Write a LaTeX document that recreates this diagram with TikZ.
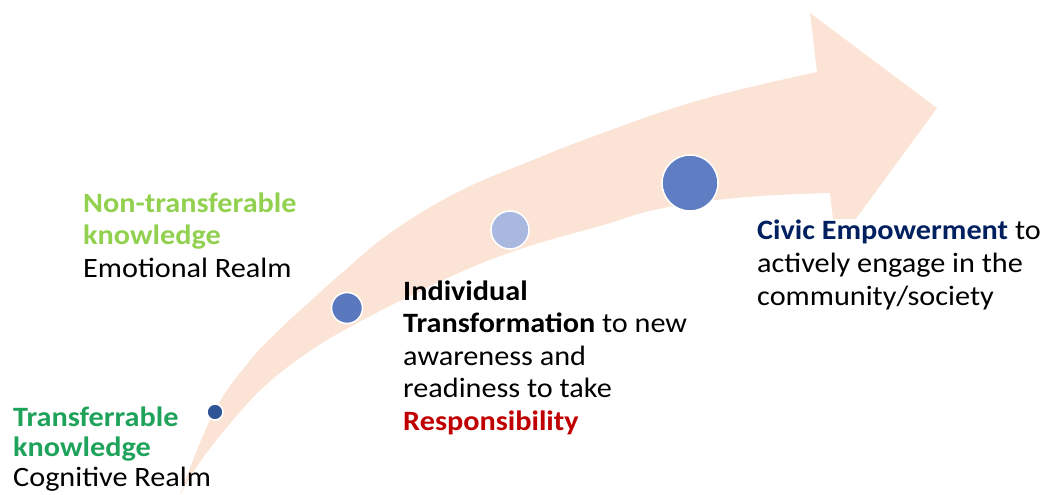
\documentclass[tikz,border=0pt]{standalone}
\usepackage{fontspec}
\setmainfont{Carlito}[FakeStretch=1.08]
\usepackage{xcolor}
\definecolor{Peach}{HTML}{FBE4D5}
\definecolor{DarkDot}{HTML}{2F5597}
\definecolor{MidDot}{HTML}{5A78BE}
\definecolor{LightDot}{HTML}{A9B8DE}
\definecolor{BigDot}{HTML}{5E7DC2}
\definecolor{KnowGreen}{HTML}{1FA35B}
\definecolor{SoftGreen}{HTML}{92D050}
\definecolor{RespRed}{HTML}{C00000}
\definecolor{CivicBlue}{HTML}{002060}

\begin{document}
\begin{tikzpicture}[x=1pt, y=-1pt,
      every node/.append style={inner sep=0pt},
      stage/.style={circle, draw=white, line width=1.5pt, inner sep=0pt, minimum size=#1}]
      \tikzstyle{realm} = [anchor=base west, align=left, color=black, font=\fontsize{28}{32.5}\selectfont]
      \useasboundingbox (0,0) rectangle (1044,495);
      % the curved arrow
      \fill[Peach] plot[smooth, tension=0.7] coordinates {(180,495) (213,414) (248,363) (277,332) (305,306) (343,272) (393,231) (460,191) (533,160) (600,134) (700,100) (817,72)}
        -- (810,13) -- (937,108) -- (836,246) -- (830,193)
        -- plot[smooth, tension=0.7] coordinates {(830,193) (747,197) (663,208) (600,226) (533,245) (470,268) (400,301) (350,327) (310,351) (267,384) (233,420) (200,462) (180,495)} -- cycle;
      % stages along the arrow
      \node (first) [stage=16, fill=DarkDot] at (215,412) {};
      \node (second) [stage=31, fill=MidDot] at (347,308) {};
      \node (third) [stage=38, fill=LightDot] at (510,230) {};
      \node (fourth) [stage=56, fill=BigDot] at (690,183) {};
      % texts
      \node (cognitive) [realm, font=\fontsize{28}{30}\selectfont] at (13,486) {\textcolor{KnowGreen}{\textbf{Transferrable}}\\ \textcolor{KnowGreen}{\textbf{knowledge}}\\ Cognitive Realm};
      \node (emotional) [realm] at (83,277) {\textcolor{SoftGreen}{\textbf{Non-transferable}}\\ \textcolor{SoftGreen}{\textbf{knowledge}}\\ Emotional Realm};
      \node (individual) [realm] at (403,430) {\textbf{Individual}\\ \textbf{Transformation} to new\\ awareness and\\ readiness to take\\ \textcolor{RespRed}{\textbf{Responsibility}}};
      \node (civic) [realm, fill=white, font=\fontsize{28}{33}\selectfont] at (757,305) {\textcolor{CivicBlue}{\textbf{Civic Empowerment}} to\\ actively engage in the\\ community/society};
\end{tikzpicture}
\end{document}
